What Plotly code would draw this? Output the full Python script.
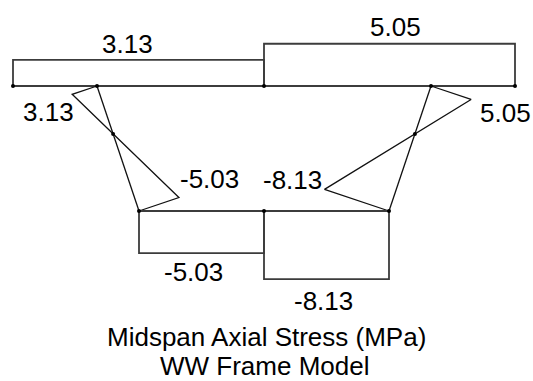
import numpy as np
import plotly.graph_objects as go

# ---- data ----
# frame nodes (drawing units)
node_names = ["T0", "T1", "T2", "T3", "T4", "B0", "B1", "B2"]
node_x = [13, 97, 264, 431, 515, 139, 264, 389]
node_y = [86, 86, 86, 86, 86, 211, 211, 211]

# members: start node, end node, stress at start, stress at end (MPa)
member_start = ["T0", "T2", "B0", "T3", "B0", "B1"]
member_end = ["T2", "T4", "T1", "B2", "B1", "B2"]
stress_start = [3.13, 5.05, -5.03, 5.05, -5.03, -8.13]
stress_end = [3.13, 5.05, 3.13, -8.13, -5.03, -8.13]
member_kind = ["chord", "chord", "web", "web", "chord", "chord"]

label_text = ["3.13", "5.05", "3.13", "5.05", "-5.03", "-8.13", "-5.03", "-8.13"]
label_x = [127, 395, 48, 505, 209, 292, 193, 323]
label_y = [44, 27, 112, 113, 179, 180, 272, 301]

title_lines = ["Midspan Axial Stress (MPa)", "WW Frame Model"]

SCALE = 8.37  # drawing units per MPa

pos = {n: (x, y) for n, x, y in zip(node_names, node_x, node_y)}

fig = go.Figure()

frame_color = "#3c3c3c"
web_color = "#111111"

cross_x, cross_y = [], []
for s, e, v1, v2, kind in zip(member_start, member_end, stress_start, stress_end, member_kind):
    p1 = np.array(pos[s], float)
    p2 = np.array(pos[e], float)
    d = (p2 - p1) / np.linalg.norm(p2 - p1)
    n = np.array([d[1], -d[0]])
    q1 = p1 + n * v1 * SCALE
    q2 = p2 + n * v2 * SCALE
    col = frame_color if kind == "chord" else web_color
    wid = 1.8 if kind == "chord" else 1.3
    fig.add_trace(go.Scatter(x=[p1[0], p2[0]], y=[p1[1], p2[1]], mode="lines",
                             line=dict(color=col, width=wid),
                             hoverinfo="skip", showlegend=False))
    fig.add_trace(go.Scatter(x=[p1[0], q1[0], q2[0], p2[0]], y=[p1[1], q1[1], q2[1], p2[1]],
                             mode="lines", line=dict(color=col, width=wid),
                             hoverinfo="skip", showlegend=False))
    if v1 * v2 < 0:
        t = v1 / (v1 - v2)
        c = p1 + t * (p2 - p1)
        cross_x.append(c[0])
        cross_y.append(c[1])

fig.add_trace(go.Scatter(x=node_x + cross_x, y=node_y + cross_y, mode="markers",
                         marker=dict(color="black", size=4), hoverinfo="skip", showlegend=False))

FONT = "Liberation Sans, Arial, sans-serif"
FS = 26
for t, x, y in zip(label_text, label_x, label_y):
    fig.add_annotation(x=x, y=y, text=t, showarrow=False, xanchor="center", yanchor="middle",
                       font=dict(family=FONT, size=FS, color="black"))

fig.add_annotation(x=266, y=337, text=title_lines[0], showarrow=False, xanchor="center",
                   yanchor="middle", font=dict(family=FONT, size=FS, color="black"))
fig.add_annotation(x=264, y=366, text=title_lines[1], showarrow=False, xanchor="center",
                   yanchor="middle", font=dict(family=FONT, size=FS, color="black"))

fig.update_layout(width=533, height=381, margin=dict(l=0, r=0, t=0, b=0),
                  paper_bgcolor="white", plot_bgcolor="white",
                  xaxis=dict(range=[0, 533], visible=False, fixedrange=True),
                  yaxis=dict(range=[381, 0], visible=False, fixedrange=True))

fig.write_html("out.html", config={"displayModeBar": False, "staticPlot": True},
               post_script="document.body.style.margin='0';document.body.style.overflow='hidden';")
